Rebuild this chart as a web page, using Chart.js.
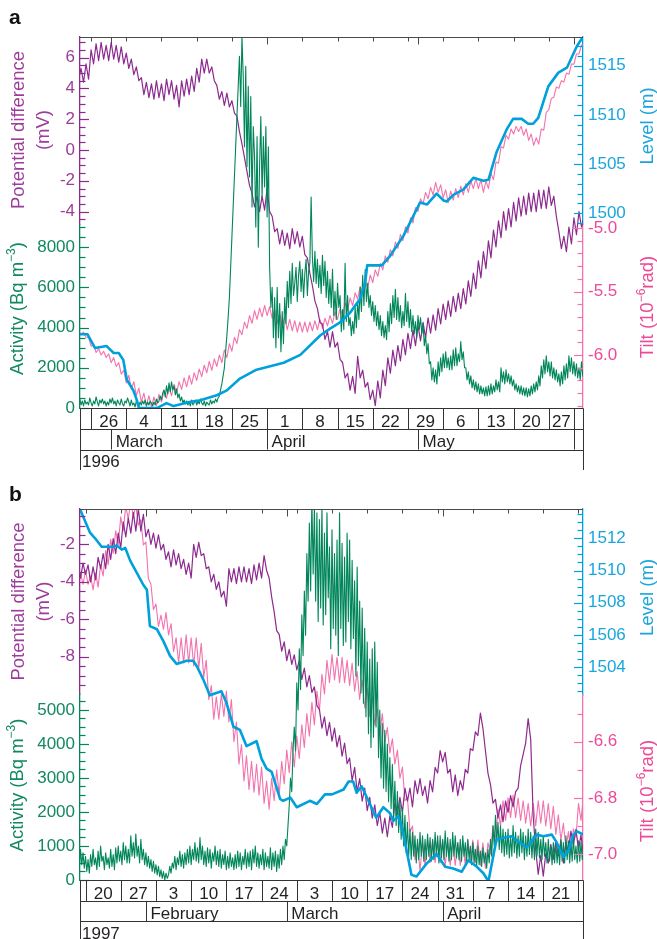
<!DOCTYPE html>
<html><head><meta charset="utf-8">
<script src="https://cdn.jsdelivr.net/npm/chart.js@4.4.1/dist/chart.umd.min.js"></script>
<style>
html,body{margin:0;padding:0;background:#fff;}
#wrap{position:relative;width:657px;height:939px;overflow:hidden;background:#fff;}
canvas{position:absolute;left:0;}
#ca{top:0;} #cb{top:480px;}
.lab{position:absolute;z-index:3;font:bold 21px "Liberation Sans",Arial,sans-serif;color:#111;line-height:normal;}
</style></head>
<body><div id="wrap">
<canvas id="ca" width="657" height="480"></canvas>
<canvas id="cb" width="657" height="459"></canvas>
<div class="lab" style="left:9px;top:5px">a</div>
<div class="lab" style="left:9px;top:482px">b</div>
</div>
<script>
// ---------------- DATA : panel a (1996), day 0 = 1 March 1996 ----------------
// potential difference and tilt: half-day samples from day -6.5
const startA = -6.5, stepA = 0.5;
const potentialA = [4.6,
 5.3,4.4, 5.6,4.6, 6.5,5.6, 6.9,5.8, 7.0,5.9, 6.8,5.8, 7.0,5.9, 6.8,5.7, 6.7,5.6, 6.3,5.3,
 5.9,4.9, 5.4,4.5, 4.7,3.6, 4.4,3.4, 4.3,3.3, 4.5,3.4, 4.3,3.2, 4.6,3.6, 4.5,3.3, 4.2,2.8,
 4.5,3.5, 4.6,3.6, 4.8,3.8, 5.3,4.4, 5.9,5.0, 5.9,5.0, 5.4,4.5, 4.2,3.3, 3.8,2.9, 3.7,2.8,
 3.2,2.4, 2.2,1.2, 0.4,-0.5, -1.4,-2.3, -2.8,-3.7, -3.0,-4.0, -3.0,-3.9, -2.5,-4.0, -4.3,-5.3, -5.1,-6.1,
 -5.2,-6.2, -5.4,-6.4, -5.1,-6.1, -5.3,-6.3, -5.6,-6.8, -7.0,-8.0, -8.8,-9.8, -10.3,-11.2, -11.3,-12.3, -11.8,-12.8,
 -11.8,-12.8, -12.5,-13.6, -13.8,-14.8, -14.5,-15.6, -14.7,-15.8, -13.4,-14.8, -14.3,-15.4, -15.1,-16.2, -15.6,-16.6, -15.0,-16.1,
 -14.3,-15.3, -13.5,-14.5, -13.0,-14.0, -12.7,-13.7, -12.3,-13.3, -11.9,-12.9, -11.7,-12.7, -11.4,-12.4, -11.2,-12.2, -10.9,-11.9,
 -10.7,-11.7, -10.3,-11.3, -10.0,-11.0, -9.8,-10.8, -9.5,-10.5, -9.3,-10.3, -9.0,-10.0, -8.5,-9.5, -8.0,-9.0, -7.2,-8.3,
 -6.6,-7.7, -5.9,-7.0, -5.2,-6.3, -4.6,-5.7, -4.0,-5.2, -3.8,-5.0, -3.4,-4.6, -3.1,-4.3, -3.0,-4.2, -2.8,-4.0,
 -2.8,-4.0, -2.6,-3.8, -2.6,-3.8, -2.4,-3.6, -3.0,-4.3, -5.3,-6.4, -5.6,-6.6, -5.0,-6.1, -4.4,-5.5, -4.0,-5.0,
 -4.4];
const tiltA = [-5.80,
 -5.84,-5.82, -5.86,-5.86, -5.93,-5.92, -5.98,-5.95, -6.00,-5.97, -6.02,-5.99, -6.06,-6.02, -6.09,-6.06, -6.15,-6.12, -6.22,-6.16,
 -6.27,-6.21, -6.32,-6.26, -6.37,-6.30, -6.40,-6.32, -6.41,-6.33, -6.40,-6.31, -6.37,-6.28, -6.34,-6.25, -6.32,-6.23, -6.30,-6.21,
 -6.27,-6.18, -6.25,-6.16, -6.23,-6.14, -6.20,-6.11, -6.17,-6.08, -6.14,-6.05, -6.12,-6.03, -6.09,-6.00, -6.06,-5.96, -6.02,-5.91,
 -5.97,-5.86, -5.91,-5.80, -5.84,-5.74, -5.79,-5.69, -5.75,-5.65, -5.72,-5.63, -5.70,-5.61, -5.69,-5.62, -5.71,-5.64, -5.75,-5.67,
 -5.78,-5.70, -5.80,-5.72, -5.81,-5.73, -5.82,-5.74, -5.82,-5.74, -5.82,-5.74, -5.81,-5.73, -5.80,-5.72, -5.79,-5.71, -5.77,-5.69,
 -5.75,-5.66, -5.72,-5.63, -5.69,-5.59, -5.65,-5.55, -5.61,-5.51, -5.56,-5.46, -5.51,-5.41, -5.47,-5.37, -5.43,-5.33, -5.38,-5.28,
 -5.33,-5.22, -5.27,-5.17, -5.22,-5.11, -5.16,-5.05, -5.10,-4.99, -5.04,-4.92, -4.96,-4.84, -4.87,-4.77, -4.81,-4.72, -4.77,-4.68,
 -4.74,-4.64, -4.72,-4.66, -4.76,-4.70, -4.80,-4.71, -4.78,-4.69, -4.76,-4.67, -4.74,-4.65, -4.72,-4.63, -4.69,-4.61, -4.69,-4.62,
 -4.72,-4.63, -4.69,-4.57, -4.62,-4.48, -4.49,-4.36, -4.37,-4.27, -4.30,-4.22, -4.26,-4.20, -4.24,-4.20, -4.27,-4.22, -4.31,-4.26,
 -4.35,-4.29, -4.34,-4.22, -4.23,-4.09, -4.07,-3.98, -3.97,-3.89, -3.90,-3.84, -3.85,-3.78, -3.79,-3.71, -3.71,-3.63, -3.63,-3.56,
 -3.55];
// activity: quarter-day samples from day -6.5
const actStartA = -6.5, actStepA = 0.25;
const activityA = [
 250,450,150,350, 100,400,200,300, 150,500,250,100, 350,200,550,300, 100,400,250,450,
 200,350,100,300, 150,450,250,500, 200,350,100,400, 250,150,450,200, 100,350,250,500,
 300,100,400,150, 250,50,350,200, 100,300,150,350, 200,400,100,300, 150,350,250,100,
 300,150,450,250, 350,600,400,750, 900,550,1100,700, 1250,800,1300,900, 1100,650,950,500,
 700,350,550,250, 400,200,350,150, 300,100,400,150, 250,400,150,350, 200,450,250,150,
 350,100,300,200, 150,400,200,350, 250,450,300,500, 600,900,1200,1600, 2000,2800,3600,4500,
 5500,7000,8500,10000, 11500,13000,14500,16000, 17500,15000,18500,16500, 13000,17000,12000,16000, 11500,15500,10000,14000,
 12500,9000,13500,8000, 12000,14500,10500,13500, 11000,14000,9500,13000, 7000,5000,6000,3500, 5500,3000,6000,3500,
 5200,2800,4800,3200, 5500,4200,6300,5000, 6800,5200,7200,5600, 6200,7000,5300,6600, 7300,5800,6900,5500,
 6700,7400,5600,6800, 7200,10500,7500,6300, 7800,6200,7400,6000, 7100,5700,7600,6100, 7300,5500,6800,5200,
 6400,5000,6900,4600, 5800,4400,6200,5000, 5600,3800,4900,3900, 7200,4300,5600,4100, 4500,3600,4300,3700,
 5000,4000,5300,4400, 6000,4800,6600,5100, 6900,5300,6200,5000, 5600,4600,5300,4300, 5100,4100,4800,3900,
 4600,3600,4300,3500, 4100,3400,4800,3800, 5200,4200,5600,4500, 5900,4400,5500,4300, 5100,4000,4800,4100,
 5700,4300,5300,4000, 4900,3800,4600,3700, 4300,3500,4600,3900, 4500,3700,4200,3100, 3600,2700,3200,2200,
 2300,1400,2000,1300, 1900,1200,2300,1600, 2500,1800,2700,2000, 2800,2000,2500,1900, 2600,1900,2900,2100,
 3000,2100,2700,2300, 3300,2400,2800,2000, 2000,1400,1800,1200, 1600,1000,1400,900, 1300,800,1200,700,
 1100,700,1000,600, 1050,600,1100,650, 1200,700,1100,800, 1400,900,1300,800, 2000,1300,1800,1200,
 1900,1300,1700,1200, 1600,1100,1400,900, 1200,800,1100,700, 1100,650,1000,600, 1000,550,950,600,
 1100,700,1200,800, 1300,900,1600,1100, 2100,1500,2400,1700, 2600,1800,2300,1600, 2300,1500,2000,1400,
 1900,1300,1700,1100, 1800,1200,2100,1400, 2200,1500,2600,1800, 2500,1700,2300,1600, 2200,1500,2000,1400,
 2300,1600,2000];
const levelDaysA = [-6.5,-4.7,-3.2,-0.9,0.5,1.5,2.4,3.1,4.4,5.1,5.5,9.1,11.0,12.4,15.0,17.7,21.0,23.0,25.6,28.9,34.3,37.6,41.6,43.6,
 45.5,47.5,49.5,50.5,50.9,53.8,55.5,58.1,61.4,62.8,64.7,66.1,66.7,68.1,70.0,72.0,74.0,75.0,76.6,78.6,79.9,81.6,82.9,83.9,84.9,86.9,88.9,90.6,92.6,94.0];
const levelA = [1487.7,1487.7,1486.3,1486.5,1485.8,1485.8,1485.1,1483.1,1482.0,1481.0,1480.2,1480.2,1480.7,1480.4,1480.75,1481.0,1481.5,1482.0,1483.2,1484.1,1484.8,1485.6,1487.6,1488.3,
 1488.9,1489.9,1491.3,1493.0,1494.7,1494.7,1495.7,1497.7,1501.1,1500.9,1502.0,1501.3,1501.2,1501.9,1502.4,1503.6,1503.3,1503.4,1506.2,1508.5,1509.6,1509.6,1509.1,1509.1,1509.7,1512.9,1514.3,1514.8,1517.0,1518.1];
const potentialTicksA = [-4,-2,0,2,4,6];
const activityTicksA = [0,2000,4000,6000,8000];
const levelTicksA = [1500,1505,1510,1515];
const tiltTicksA = [-6.0,-5.5,-5.0];
const weekDaysA = [-4,3,10,17,24,31,38,45,52,59,66,73,80,87,92];
const weekLabelsA = ['26','4','11','18','25','1','8','15','22','29','6','13','20','27'];
const monthDaysA = [0,31,61,92];
const monthLabelsA = ['March','April','May'];
const yearLabelA = '1996';

// ---------------- DATA : panel b (1997), day 0 = 1 March 1997 ----------------
const startB = -41.5, stepB = 0.5;
const potentialB = [-3.0,
 -3.8,-3.0, -3.6,-3.1, -4.0,-3.2, -3.9,-2.7, -3.3,-2.5, -3.3,-2.0, -2.8,-1.7, -2.5,-1.4, -2.2,-0.8, -1.6,-0.6,
 -1.4,-0.3, -1.3,-0.1, -1.3,-0.4, -1.6,-1.2, -2.0,-1.4, -2.2,-1.5, -2.3,-2.0, -2.8,-2.4, -3.2,-2.3, -3.1,-2.5,
 -3.3,-2.8, -3.6,-3.0, -3.8,-2.0, -2.7,-1.9, -2.6,-2.5, -3.3,-3.2, -4.0,-3.6, -4.4,-4.0, -4.8,-4.5, -5.3,-3.3,
 -4.0,-3.3, -4.1,-3.2, -4.0,-3.2, -4.0,-3.3, -4.1,-3.1, -3.9,-3.0, -3.8,-2.6, -3.4,-3.8, -4.8,-5.6, -6.6,-6.8,
 -7.7,-7.2, -8.2,-7.6, -8.4,-7.9, -8.7,-8.2, -9.2,-8.6, -9.6,-9.0, -9.9,-9.6, -10.6,-10.8, -11.8,-11.2, -12.2,-11.5,
 -12.5,-11.8, -12.8,-12.2, -13.3,-12.6, -13.7,-13.4, -14.6,-13.9, -15.2,-14.5, -15.7,-15.0, -16.2,-15.5, -16.6,-15.9, -17.0,-16.3,
 -17.4,-16.6, -17.6,-16.5, -17.1,-15.8, -16.4,-15.5, -16.3,-15.0, -15.7,-15.0, -16.0,-14.6, -15.3,-14.5, -15.4,-14.9, -15.8,-14.6,
 -15.2,-13.9, -14.2,-13.0, -13.6,-13.1, -14.2,-14.0, -15.2,-14.3, -15.4,-14.6, -15.1,-14.0, -14.2,-12.9, -13.0,-12.0, -12.2,-11.0,
 -11.8,-13.0, -14.2,-14.8, -15.8,-15.6, -16.6,-15.9, -16.8,-15.7, -16.3,-15.4, -16.0,-15.2, -15.0,-13.8, -13.2,-12.6, -11.3,-12.4,
 -16.5,-18.3, -19.6,-18.6, -19.7,-18.5, -19.0,-18.0, -18.8,-17.8, -18.6,-17.8, -19.0,-17.9, -18.4,-17.3, -18.0,-17.2, -18.3,-17.5,
 -18.6];
const tiltB = [-6.04,
 -6.00,-6.04, -5.99,-6.04, -6.01,-6.06, -6.00,-6.05, -5.97,-6.01, -5.92,-5.97, -5.88,-5.93, -5.85,-5.90, -5.80,-5.85, -5.76,-5.81,
 -5.74,-5.80, -5.76,-5.83, -5.81,-5.90, -5.89,-6.02, -6.04,-6.13, -6.11,-6.19, -6.15,-6.20, -6.14,-6.22, -6.18,-6.28, -6.23,-6.32,
 -6.23,-6.32, -6.22,-6.32, -6.23,-6.33, -6.23,-6.34, -6.25,-6.37, -6.31,-6.45, -6.40,-6.52, -6.44,-6.52, -6.43,-6.51, -6.42,-6.53,
 -6.45,-6.60, -6.53,-6.68, -6.61,-6.74, -6.65,-6.77, -6.67,-6.78, -6.68,-6.79, -6.69,-6.82, -6.74,-6.84, -6.73,-6.81, -6.70,-6.79,
 -6.67,-6.75, -6.63,-6.71, -6.60,-6.69, -6.58,-6.66, -6.54,-6.62, -6.50,-6.58, -6.46,-6.54, -6.42,-6.49, -6.36,-6.43, -6.31,-6.39,
 -6.29,-6.38, -6.30,-6.39, -6.30,-6.39, -6.31,-6.40, -6.32,-6.42, -6.35,-6.45, -6.38,-6.48, -6.41,-6.51, -6.44,-6.54, -6.48,-6.57,
 -6.50,-6.60, -6.55,-6.64, -6.59,-6.68, -6.63,-6.73, -6.69,-6.81, -6.80,-6.92, -6.90,-7.02, -6.96,-7.06, -6.96,-7.04, -6.95,-7.03,
 -6.95,-7.03, -6.95,-7.03, -6.95,-7.04, -6.96,-7.04, -6.96,-7.04, -6.96,-7.04, -6.96,-7.04, -6.95,-7.03, -6.95,-7.03, -6.95,-7.04,
 -6.96,-7.05, -6.96,-7.00, -6.90,-6.95, -6.84,-6.90, -6.81,-6.88, -6.80,-6.87, -6.79,-6.87, -6.80,-6.88, -6.81,-6.89, -6.82,-6.90,
 -6.82,-6.90, -6.81,-6.89, -6.81,-6.90, -6.82,-6.91, -6.83,-6.93, -6.86,-6.95, -6.89,-6.98, -6.92,-7.00, -6.91,-6.94, -6.82,-6.88,
 -6.79];
const actStartB = -41.5, actStepB = 0.25;
const activityB = [
 700,300,900,450, 800,350,700,250, 600,200,750,400, 900,450,650,300, 850,400,1000,550,
 700,300,800,450, 650,350,900,400, 750,300,950,500, 1000,550,850,450, 1100,600,1000,500,
 900,500,1300,700, 1100,650,1350,700, 1000,500,1200,600, 900,450,800,400, 700,350,600,250,
 550,200,450,150, 400,100,300,50, 250,0,200,50, 150,400,200,500, 350,700,300,650,
 450,850,400,750, 350,800,450,900, 500,1000,450,900, 600,1100,550,950, 500,1250,600,1000,
 450,850,400,950, 500,900,350,800, 550,1000,450,850, 400,900,350,750, 450,850,300,700,
 350,800,400,650, 300,750,350,850, 400,800,300,700, 450,900,350,800, 400,850,300,900,
 500,1000,400,800, 350,750,450,900, 300,800,400,700, 350,950,300,800, 400,850,250,750,
 350,900,450,1000, 600,1200,1000,1600, 2200,3000,2600,3800, 4500,3800,5800,5000, 6800,5600,7800,6600,
 8500,7200,9600,8200, 10500,8500,11200,9000, 11000,8200,10800,7600, 10600,8000,11000,7500, 10200,7800,10800,8300,
 9800,6800,10300,7400, 9600,7200,10000,6600, 10800,7400,9900,6900, 9500,7000,10200,7600, 10000,6800,9400,7100,
 8800,6000,9200,6300, 8200,5500,8000,5200, 7400,4800,7000,4300, 6500,3900,6800,4200, 7000,4500,6400,3600,
 5000,3000,4600,2700, 4400,2600,4000,2300, 3600,2100,3400,1800, 2900,1600,2600,1400, 2300,1200,2100,1000,
 1900,800,1700,700, 1500,600,1400,700, 1300,500,1200,600, 1400,700,1300,550, 1200,600,1350,700,
 1250,550,1200,600, 1400,700,1300,500, 1300,650,1200,600, 1450,700,1250,550, 1200,600,1400,700,
 1300,650,1100,600, 1200,550,1300,700, 1100,500,1200,600, 1000,450,1100,500, 900,400,1000,450,
 850,400,950,500, 800,350,900,500, 1200,700,1600,1000, 1900,1100,1700,900, 1600,800,1500,700,
 1400,750,1500,650, 1300,700,1600,800, 1400,650,1300,700, 1500,800,1400,600, 1300,700,1500,750,
 1400,650,1300,600, 1500,700,1400,650, 1200,600,1300,700, 1100,500,1200,550, 1000,450,1100,500,
 1100,500,1000,450, 1200,550,1100,500, 1300,600,1150,500, 1100,550,1250,600, 1000,500,1150,550,
 1100,600,900];
const levelDaysB = [-41.5,-41.1,-39.1,-38.1,-36.8,-34.5,-33.8,-32.8,-32.1,-31.1,-29.8,-28.5,-27.8,-27.2,-25.8,-24.5,-23.2,-21.9,-19.9,-18.6,-17.9,-16.6,-15.3,-14.0,-13.0,-12.0,-10.6,-9.3,-8.0,-6.0,-5.0,-4.0,-3.0,-1.3,-0.7,0.7,2.0,4.6,6.0,7.6,9.0,11.3,12.3,13.2,13.9,14.9,17.8,19.2,20.5,21.2,22.2,23.2,24.8,25.8,27.8,29.8,31.5,33.1,34.8,36.1,37.8,39.1,40.1,41.7,43.1,44.7,46.4,47.7,49.7,51.0,52.7,53.7,55.0,56.0,57.0,57.7,59.0];
const levelB = [1514.0,1513.8,1512.35,1512.0,1511.48,1511.48,1511.56,1511.3,1511.4,1510.6,1509.86,1509.1,1508.8,1506.55,1506.35,1505.6,1504.7,1504.2,1504.4,1504.4,1504.07,1503.24,1502.25,1502.4,1502.5,1501.8,1500.3,1500.1,1499.1,1499.4,1498.3,1497.7,1497.5,1495.8,1495.7,1495.9,1495.3,1495.7,1495.5,1496.1,1496.1,1496.4,1496.9,1496.9,1496.2,1496.6,1494.65,1495.3,1494.95,1494.45,1494.75,1493.6,1491.1,1491.0,1491.8,1492.4,1491.6,1491.5,1491.3,1492.0,1491.6,1491.2,1490.7,1493.3,1493.4,1493.5,1493.1,1492.8,1493.6,1493.5,1493.6,1493.1,1492.2,1492.6,1493.6,1493.8,1493.6];
const potentialTicksB = [-8,-6,-4,-2];
const activityTicksB = [0,1000,2000,3000,4000,5000];
const levelTicksB = [1504,1506,1508,1510,1512];
const tiltTicksB = [-7.0,-6.8,-6.6];
const weekDaysB = [-40,-33,-26,-19,-12,-5,2,9,16,23,30,37,44,51,58];
const weekLabelsB = ['20','27','3','10','17','24','3','10','17','24','31','7','14','21'];
const monthDaysB = [-28,0,31];
const monthLabelsB = ['February','March','April'];
const yearLabelB = '1997';

// ---------------- STYLE ----------------
const FONT = '"Liberation Sans", Arial, Helvetica, sans-serif';
const COL = {
  pd: '#8c2a8f', pdText: '#9c3d9b',
  act: '#00865a', actText: '#12895e',
  lev: '#00a0dc', levText: '#1aa6dc',
  tilt: '#f273ad', tiltText: '#ec4a98',
  ink: '#231f20', frame: '#4a4a4a'
};
Chart.defaults.font.family = FONT;

function evenSeries(start, step, values) { return values.map((v, i) => ({x: start + i * step, y: v})); }
function xySeries(xs, ys) { return xs.map((x, i) => ({x: x, y: ys[i]})); }

function yAxis(pos, stack, s, weight, textColor, lineColor, fmt) {
  return {
    type: 'linear', position: pos, stack: stack, stackWeight: s.weight, weight: weight,
    min: s.min, max: s.max, offset: false,
    grid: {display: false, drawTicks: false, drawOnChartArea: false},
    border: {display: true, color: lineColor, width: 1.3},
    ticks: {autoSkip: false, padding: 5, color: textColor, font: {family: FONT, size: 17}, callback: fmt},
    afterBuildTicks: (sc) => { sc.ticks = s.ticks.map(v => ({value: v})); },
    afterFit: (sc) => { sc.width = pos === 'left' ? 80 : 74; }
  };
}

const clipPlugin = {
  id: 'clipToArea',
  beforeDatasetsDraw(chart) {
    const a = chart.chartArea, ctx = chart.ctx;
    ctx.save(); ctx.beginPath(); ctx.rect(a.left, a.top, a.right - a.left, a.bottom - a.top); ctx.clip();
  },
  afterDatasetsDraw(chart) { chart.ctx.restore(); }
};

function drawTitle(ctx, parts, cx, cy, color) {
  ctx.save();
  ctx.translate(cx, cy); ctx.rotate(-Math.PI / 2);
  ctx.fillStyle = color; ctx.textBaseline = 'middle'; ctx.textAlign = 'left';
  const big = '18.5px ' + FONT, small = '12px ' + FONT;
  let w = 0;
  parts.forEach(p => { ctx.font = p.sup ? small : big; w += ctx.measureText(p.t).width; });
  let x = -w / 2;
  parts.forEach(p => { ctx.font = p.sup ? small : big; ctx.fillText(p.t, x, p.sup ? -6 : 0); x += ctx.measureText(p.t).width; });
  ctx.restore();
}

function makeDecor(cfg) {
  return {
    id: 'decor',
    afterDraw(chart) {
      const ctx = chart.ctx, a = chart.chartArea, xs = chart.scales.x;
      const px = d => xs.getPixelForValue(d);
      ctx.save();
      const axes = [
        ['yPd', 'left', cfg.pd, COL.pd], ['yAct', 'left', cfg.act, COL.act],
        ['yLev', 'right', cfg.lev, COL.lev], ['yTilt', 'right', cfg.tilt, COL.tilt]
      ];
      axes.forEach(([id, side, s, color]) => {
        const sc = chart.scales[id];
        const x0 = side === 'left' ? a.left : a.right, dir = side === 'left' ? 1 : -1;
        ctx.strokeStyle = color; ctx.lineWidth = 1.2;
        const lo = Math.min(sc.min, sc.max), hi = Math.max(sc.min, sc.max);
        for (let k = Math.ceil(lo / s.minor - 1e-6); k * s.minor <= hi + 1e-6; k++) {
          const v = k * s.minor;
          const y = Math.round(sc.getPixelForValue(v)) + 0.5;
          if (y < sc.top - 0.5 || y > sc.bottom + 0.5) continue;
          const major = s.ticks.some(m => Math.abs(m - v) < s.minor / 100);
          ctx.beginPath(); ctx.moveTo(x0, y); ctx.lineTo(x0 + dir * (major ? 9 : 5.5), y); ctx.stroke();
        }
      });
      ctx.strokeStyle = COL.frame; ctx.lineWidth = 1;
      const top = Math.round(a.top) + 0.5;
      ctx.beginPath(); ctx.moveTo(a.left, top); ctx.lineTo(a.right, top); ctx.stroke();
      cfg.weekDays.forEach(d => { const x = Math.round(px(d)) + 0.5; ctx.beginPath(); ctx.moveTo(x, top); ctx.lineTo(x, top + 4); ctx.stroke(); });
      cfg.monthDays.forEach(d => { const x = Math.round(px(d)) + 0.5; if (x > a.right) return; ctx.beginPath(); ctx.moveTo(x, top); ctx.lineTo(x, top + 7); ctx.stroke(); });
      const L = Math.round(a.left) + 0.5, R = Math.round(a.right) + 0.5;
      const y0 = Math.round(a.bottom) + 0.5, y1 = y0 + cfg.rowH, y2 = y1 + cfg.rowH, y3 = y2 + cfg.rowH;
      ctx.strokeStyle = '#333'; ctx.lineWidth = 1;
      const line = (xa, ya, xb, yb) => { ctx.beginPath(); ctx.moveTo(xa, ya); ctx.lineTo(xb, yb); ctx.stroke(); };
      line(L, y0, R, y0); line(L, Math.round(y1) + 0.5, R, Math.round(y1) + 0.5); line(L, Math.round(y2) + 0.5, R, Math.round(y2) + 0.5);
      line(L, y0, L, y3); line(R, y0, R, y3);
      cfg.weekDays.forEach(d => { const x = Math.round(px(d)) + 0.5; line(x, y0, x, y1); });
      cfg.monthDays.forEach(d => { const x = Math.round(px(d)) + 0.5; line(x, y1, x, y2); });
      ctx.fillStyle = COL.ink; ctx.font = '17px ' + FONT; ctx.textBaseline = 'alphabetic';
      ctx.textAlign = 'center';
      cfg.weekLabels.forEach((t, i) => { ctx.fillText(t, (px(cfg.weekDays[i]) + px(cfg.weekDays[i + 1])) / 2, y1 - 2); });
      ctx.textAlign = 'left';
      cfg.monthLabels.forEach((t, i) => { ctx.fillText(t, px(cfg.monthDays[i]) + 4.5, y2 - 2.5); });
      ctx.fillText(cfg.year, a.left + 2, y3 - 3);
      const sp = chart.scales.yPd, sa = chart.scales.yAct, sl = chart.scales.yLev, st = chart.scales.yTilt;
      const cPd = (sp.top + sp.bottom) / 2 + cfg.dy[0];
      drawTitle(ctx, [{t: 'Potential difference'}], 19, cPd, COL.pdText);
      drawTitle(ctx, [{t: '(mV)'}], 44, cPd, COL.pdText);
      drawTitle(ctx, [{t: 'Activity (Bq m'}, {t: '\u22123', sup: true}, {t: ')'}], 18, (sa.top + sa.bottom) / 2 + cfg.dy[1], COL.actText);
      drawTitle(ctx, [{t: 'Level (m)'}], 648, (sl.top + sl.bottom) / 2 + cfg.dy[2], COL.levText);
      drawTitle(ctx, [{t: 'Tilt (10'}, {t: '\u22126', sup: true}, {t: 'rad)'}], 648, (st.top + st.bottom) / 2 + cfg.dy[3], COL.tiltText);
      ctx.restore();
    }
  };
}

function makePanel(canvasId, cfg) {
  const common = {pointRadius: 0, tension: 0, fill: false, clip: false, borderJoinStyle: 'round'};
  new Chart(document.getElementById(canvasId), {
    type: 'line',
    data: {datasets: [
      Object.assign({label: 'Level', data: xySeries(cfg.levelDays, cfg.level), yAxisID: 'yLev', borderColor: COL.lev, borderWidth: 2.6, order: 0}, common),
      Object.assign({label: 'Activity', data: evenSeries(cfg.actStart, cfg.actStep, cfg.activity), yAxisID: 'yAct', borderColor: COL.act, borderWidth: 1.1, order: 1}, common),
      Object.assign({label: 'Potential difference', data: evenSeries(cfg.start, cfg.step, cfg.potential), yAxisID: 'yPd', borderColor: COL.pd, borderWidth: 1.2, order: 2}, common),
      Object.assign({label: 'Tilt', data: evenSeries(cfg.start, cfg.step, cfg.tiltData), yAxisID: 'yTilt', borderColor: COL.tilt, borderWidth: 1.1, order: 3}, common)
    ]},
    options: {
      responsive: false, animation: false, devicePixelRatio: 1, events: [],
      layout: {padding: {left: 0, right: 0, top: cfg.padTop, bottom: cfg.padBottom}},
      plugins: {legend: {display: false}, tooltip: {enabled: false}},
      scales: {
        x: {type: 'linear', min: cfg.xMin, max: cfg.xMax, display: false},
        yPd: yAxis('left', 'L', cfg.pd, 1, COL.pdText, COL.pd, v => String(v)),
        yAct: yAxis('left', 'L', cfg.act, 0, COL.actText, COL.act, v => String(v)),
        yLev: yAxis('right', 'R', cfg.lev, 0, COL.levText, COL.lev, v => String(v)),
        yTilt: yAxis('right', 'R', cfg.tilt, 1, COL.tiltText, COL.tilt, v => v.toFixed(1))
      }
    },
    plugins: [clipPlugin, makeDecor(cfg)]
  });
}

makePanel('ca', {
  xMin: -6.2, xMax: 93.8, padTop: 37, padBottom: 72, rowH: 20.5,
  start: startA, step: stepA, potential: potentialA, tiltData: tiltA,
  actStart: actStartA, actStep: actStepA, activity: activityA,
  levelDays: levelDaysA, level: levelA,
  pd: {min: -4.87, max: 7.34, weight: 188, ticks: potentialTicksA, minor: 0.5},
  act: {min: 0, max: 9104, weight: 183, ticks: activityTicksA, minor: 500},
  lev: {min: 1498.91, max: 1517.92, weight: 187, ticks: levelTicksA, minor: 1},
  tilt: {min: -6.417, max: -4.9685, weight: 184, ticks: tiltTicksA, minor: 0.1},
  weekDays: weekDaysA, weekLabels: weekLabelsA, monthDays: monthDaysA, monthLabels: monthLabelsA, year: yearLabelA,
  dy: [-1, -8, -4.5, -9]
});
makePanel('cb', {
  xMin: -41.1, xMax: 58.9, padTop: 29, padBottom: 59, rowH: 20.4,
  start: startB, step: stepB, potential: potentialB, tiltData: tiltB,
  actStart: actStartB, actStep: actStepB, activity: activityB,
  levelDays: levelDaysB, level: levelB,
  pd: {min: -9.984, max: -0.117, weight: 185, ticks: potentialTicksB, minor: 0.5},
  act: {min: 0, max: 5470, weight: 186, ticks: activityTicksB, minor: 250},
  lev: {min: 1502.27, max: 1513.82, weight: 186, ticks: levelTicksB, minor: 0.5},
  tilt: {min: -7.092, max: -6.4338, weight: 185, ticks: tiltTicksB, minor: 0.1},
  weekDays: weekDaysB, weekLabels: weekLabelsB, monthDays: monthDaysB, monthLabels: monthLabelsB, year: yearLabelB,
  dy: [0, -2, -4.5, 3.5]
});
</script>
</body></html>
